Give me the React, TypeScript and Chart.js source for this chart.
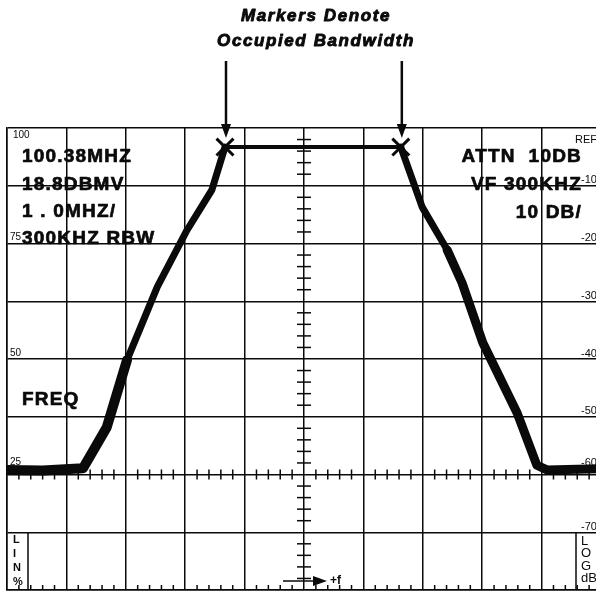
import React, { useEffect, useRef } from "react";
import { Chart, registerables } from "chart.js";

Chart.register(...registerables);

// ---- data (frequency in graticule divisions, level in dB relative to REF) ----
const leftTraceDiv = [0, 0.6, 1.28, 1.68, 2.02, 2.53, 3.03, 3.45, 3.67];
const leftTraceDb = [-59.2, -59.3, -58.9, -51.8, -40.2, -27.5, -17.7, -10.7, -3.3];
const rightTraceDiv = [6.63, 6.99, 7.41, 7.66, 8.01, 8.59, 8.92, 9.09, 9.6, 10];
const rightTraceDb = [-3.3, -13.7, -21.1, -26.8, -37.2, -49.4, -58.4, -59.2, -59.1, -59.0];
const markerDiv = [3.67, 6.63];
const markerDb = [-3.3, -3.3];

const linPctLabels = ["100", "75", "50", "25"];
const linPctValues = [100, 75, 50, 25];
const logDbLabels = ["REF", "-10", "-20", "-30", "-40", "-50", "-60", "-70"];
const logDbValues = [0, -10, -20, -30, -40, -50, -60, -70];

const leftInfoLines = ["100.38MHZ", "18.8DBMV", "1 . 0MHZ/", "300KHZ RBW"];
const rightInfoLines = ["ATTN  10DB", "VF 300KHZ", "10 DB/"];
const titleLines = ["Markers Denote", "Occupied Bandwidth"];
const freqLabel = "FREQ";
const linBoxLetters = ["L", "I", "N", "%"];
const logBoxLetters = ["L", "O", "G", "dB"];
const fArrowLabel = "+f";

const pts = (xs: number[], ys: number[]) => xs.map((x, i) => ({ x, y: ys[i] }));
const pctToDb = (p: number) => (p - 100) * 0.8;

const INK = "#0a0a0a";
const SANS = '"Liberation Sans", Arial, sans-serif';

const heavyText = (ctx: any, s: string, x: number, y: number, w: number) => {
  ctx.lineWidth = w;
  ctx.lineJoin = "round";
  ctx.strokeText(s, x, y);
  ctx.fillText(s, x, y);
};

const overlayPlugin = {
  id: "analyzerOverlay",
  beforeDatasetsDraw(chart: any) {
    const { ctx, chartArea, scales } = chart;
    const xs = scales.x;
    const ys = scales.y;
    const { left, top, bottom } = chartArea;
    ctx.save();
    ctx.strokeStyle = INK;
    ctx.fillStyle = INK;
    ctx.lineWidth = 1.5;

    // minor ticks on the centre vertical line
    const cx = xs.getPixelForValue(5);
    for (let d = -80; d <= 0; d += 2) {
      if (d % 10 === 0) continue;
      const py = ys.getPixelForValue(d);
      ctx.beginPath();
      ctx.moveTo(cx - 7, py);
      ctx.lineTo(cx + 7, py);
      ctx.stroke();
    }
    // minor ticks on the -60 dB line and the bottom edge
    const ay = ys.getPixelForValue(-60);
    for (let i = 0; i <= 50; i++) {
      if (i % 5 === 0) continue;
      const px = xs.getPixelForValue(i / 5);
      ctx.beginPath();
      ctx.moveTo(px, ay - 5);
      ctx.lineTo(px, ay + 5);
      ctx.moveTo(px, bottom);
      ctx.lineTo(px, bottom - 5);
      ctx.stroke();
    }

    // LIN % box and LOG dB box
    const boxTop = ys.getPixelForValue(-70);
    ctx.beginPath();
    ctx.moveTo(left + 21, boxTop);
    ctx.lineTo(left + 21, bottom);
    ctx.moveTo(576, boxTop);
    ctx.lineTo(576, bottom);
    ctx.stroke();
    ctx.font = `bold 11px ${SANS}`;
    ctx.textAlign = "left";
    ctx.textBaseline = "middle";
    linBoxLetters.forEach((s, i) => ctx.fillText(s, left + 6, boxTop + 8 + i * 14));
    ctx.font = `13px ${SANS}`;
    logBoxLetters.forEach((s, i) => ctx.fillText(s, 581, boxTop + 9 + i * 12.5));

    // +f arrow
    const fy = bottom - 9;
    ctx.lineWidth = 1.5;
    ctx.beginPath();
    ctx.moveTo(cx - 21, fy);
    ctx.lineTo(cx + 10, fy);
    ctx.stroke();
    ctx.beginPath();
    ctx.moveTo(cx + 9, fy - 5);
    ctx.lineTo(cx + 23, fy);
    ctx.lineTo(cx + 9, fy + 5);
    ctx.closePath();
    ctx.fill();
    ctx.font = `bold 12px ${SANS}`;
    ctx.fillText(fArrowLabel, cx + 26, fy);

    // scale labels
    ctx.font = `10px ${SANS}`;
    linPctLabels.forEach((s, i) => {
      const py = ys.getPixelForValue(pctToDb(linPctValues[i]));
      if (i === 0) {
        ctx.textBaseline = "top";
        ctx.fillText(s, left + 6, py + 2);
      } else {
        ctx.textBaseline = "bottom";
        ctx.fillText(s, left + 3, py - (i === 3 ? 7 : 1));
      }
    });
    ctx.font = `11px ${SANS}`;
    logDbLabels.forEach((s, i) => {
      const py = ys.getPixelForValue(logDbValues[i]);
      if (i === 0) {
        ctx.textBaseline = "top";
        ctx.fillText(s, 575, py + 6);
      } else {
        ctx.textBaseline = "bottom";
        ctx.fillText(s, 581, py + (i === 6 ? -6 : 0));
      }
    });

    // info text
    ctx.font = `bold 19px ${SANS}`;
    (ctx as any).letterSpacing = "1.2px";
    ctx.textBaseline = "middle";
    ctx.textAlign = "left";
    leftInfoLines.forEach((s, i) => heavyText(ctx, s, left + 15, top + 29 + i * 27.3, 0.7));
    ctx.textAlign = "right";
    rightInfoLines.forEach((s, i) => heavyText(ctx, s, 582, top + 29 + i * 28, 0.7));
    ctx.textAlign = "left";
    heavyText(ctx, freqLabel, left + 15, ys.getPixelForValue(-47), 0.7);
    (ctx as any).letterSpacing = "0px";
    ctx.restore();
  },
  afterDraw(chart: any) {
    const { ctx, chartArea, scales } = chart;
    const xs = scales.x;
    ctx.save();
    ctx.fillStyle = INK;
    ctx.strokeStyle = INK;
    // title
    ctx.font = `italic bold 17px ${SANS}`;
    (ctx as any).letterSpacing = "1.6px";
    ctx.textAlign = "center";
    ctx.textBaseline = "middle";
    heavyText(ctx, titleLines[0], 316, 16, 0.9);
    heavyText(ctx, titleLines[1], 316, 41, 0.9);
    (ctx as any).letterSpacing = "0px";
    // arrows down to markers
    markerDiv.forEach((d) => {
      const px = xs.getPixelForValue(d) + 1;
      ctx.lineWidth = 2.5;
      ctx.beginPath();
      ctx.moveTo(px, 61);
      ctx.lineTo(px, chartArea.top - 2);
      ctx.stroke();
      ctx.beginPath();
      ctx.moveTo(px - 5, chartArea.top - 4);
      ctx.lineTo(px, chartArea.top + 10);
      ctx.lineTo(px + 5, chartArea.top - 4);
      ctx.closePath();
      ctx.fill();
    });
    ctx.restore();
  },
};

export default function App() {
  const canvasRef = useRef<HTMLCanvasElement | null>(null);

  useEffect(() => {
    const canvas = canvasRef.current;
    if (!canvas) return;
    const lineDs = (data: any[], width: number) => ({
      data,
      borderColor: INK,
      backgroundColor: INK,
      borderWidth: width,
      pointRadius: 0,
      borderJoinStyle: "round" as const,
      borderCapStyle: "round" as const,
      tension: 0,
      fill: false,
    });
    const chart = new Chart(canvas, {
      type: "line",
      data: {
        datasets: [
          lineDs(pts(leftTraceDiv, leftTraceDb), 7),
          lineDs(pts(leftTraceDiv.slice(0, 5), leftTraceDb.slice(0, 5)), 10),
          lineDs(pts(rightTraceDiv, rightTraceDb), 7),
          lineDs(pts(rightTraceDiv.slice(2), rightTraceDb.slice(2)), 9),
          {
            data: pts(markerDiv, markerDb),
            borderColor: INK,
            backgroundColor: INK,
            borderWidth: 4,
            pointStyle: "crossRot",
            pointRadius: 12,
            pointBorderWidth: 3,
            pointBorderColor: INK,
            tension: 0,
            fill: false,
          } as any,
        ],
      },
      options: {
        responsive: false,
        animation: false,
        devicePixelRatio: 1,
        layout: { autoPadding: false, padding: { left: 7, top: 128, right: 39, bottom: 2 } },
        plugins: { legend: { display: false }, tooltip: { enabled: false } },
        events: [],
        scales: {
          x: {
            type: "linear",
            min: 0,
            max: 10,
            ticks: { display: false, stepSize: 1 },
            grid: { color: INK, lineWidth: 1.5, drawTicks: false },
            border: { display: true, color: INK, width: 1.5 },
            afterFit: (scale: any) => {
              scale.height = 0;
            },
          },
          y: {
            type: "linear",
            min: -80,
            max: 0,
            ticks: { display: false, stepSize: 10 },
            grid: { color: INK, lineWidth: 1.5, drawTicks: false },
            border: { display: true, color: INK, width: 1.5 },
            afterFit: (scale: any) => {
              scale.width = 0;
            },
          },
        },
      },
      plugins: [overlayPlugin],
    });
    return () => chart.destroy();
  }, []);

  return (
    <div
      style={{
        position: "fixed",
        left: 0,
        top: 0,
        width: 596,
        height: 592,
        overflow: "hidden",
        background: "#fff",
      }}
    >
      <canvas ref={canvasRef} width={640} height={592} style={{ display: "block", width: 640, height: 592 }} />
    </div>
  );
}
